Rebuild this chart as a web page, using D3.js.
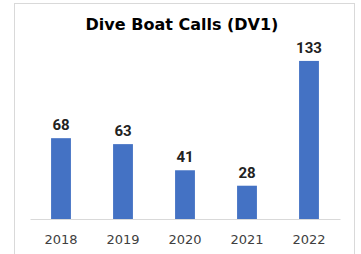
<!DOCTYPE html>
<html>
<head>
<meta charset="utf-8">
<script src="https://cdn.jsdelivr.net/npm/d3@7"></script>
<style>
  body { margin: 0; overflow: hidden; background: #fff; }
</style>
</head>
<body>
<script>
const width = 361;
const height = 254;

const years = ["2018", "2019", "2020", "2021", "2022"];
const calls = [68, 63, 41, 28, 133];

const svg = d3.select("body")
  .append("svg")
  .attr("width", width)
  .attr("height", height);

// chart frame
svg.append("rect")
  .attr("x", 14.5)
  .attr("y", 3.5)
  .attr("width", 340)
  .attr("height", 270)
  .attr("fill", "#fff")
  .attr("stroke", "#d9d9d9");

svg.append("text")
  .attr("x", 182)
  .attr("y", 30)
  .attr("text-anchor", "middle")
  .attr("font-family", "DejaVu Sans")
  .attr("font-weight", "bold")
  .attr("font-size", 16)
  .attr("fill", "#000")
  .text("Dive Boat Calls (DV1)");

const x = d3.scaleBand()
  .domain(years)
  .range([30, 340])
  .paddingInner(0.68)
  .paddingOuter(0.34);

const y = d3.scaleLinear()
  .domain([0, 140])
  .range([219, 52.6]);

svg.selectAll(".bar")
  .data(calls)
  .join("rect")
  .attr("class", "bar")
  .attr("x", (d, i) => x(years[i]))
  .attr("y", d => y(d))
  .attr("width", x.bandwidth())
  .attr("height", d => y(0) - y(d))
  .attr("fill", "#4472c4");

svg.selectAll(".label")
  .data(calls)
  .join("text")
  .attr("class", "label")
  .attr("x", (d, i) => x(years[i]) + x.bandwidth() / 2)
  .attr("y", d => y(d) - 8)
  .attr("text-anchor", "middle")
  .attr("font-family", "Liberation Sans Narrow, Roboto, sans-serif")
  .attr("font-weight", "bold")
  .attr("font-size", 15)
  .attr("fill", "#222")
  .text(d => d);

const xAxis = svg.append("g")
  .attr("transform", `translate(0,${y(0)})`)
  .call(d3.axisBottom(x).tickSize(0).tickPadding(16));

xAxis.select(".domain").attr("stroke", "#d9d9d9");
xAxis.selectAll("text")
  .attr("font-family", "DejaVu Sans")
  .attr("font-size", 13)
  .attr("fill", "#404040");
</script>
</body>
</html>
